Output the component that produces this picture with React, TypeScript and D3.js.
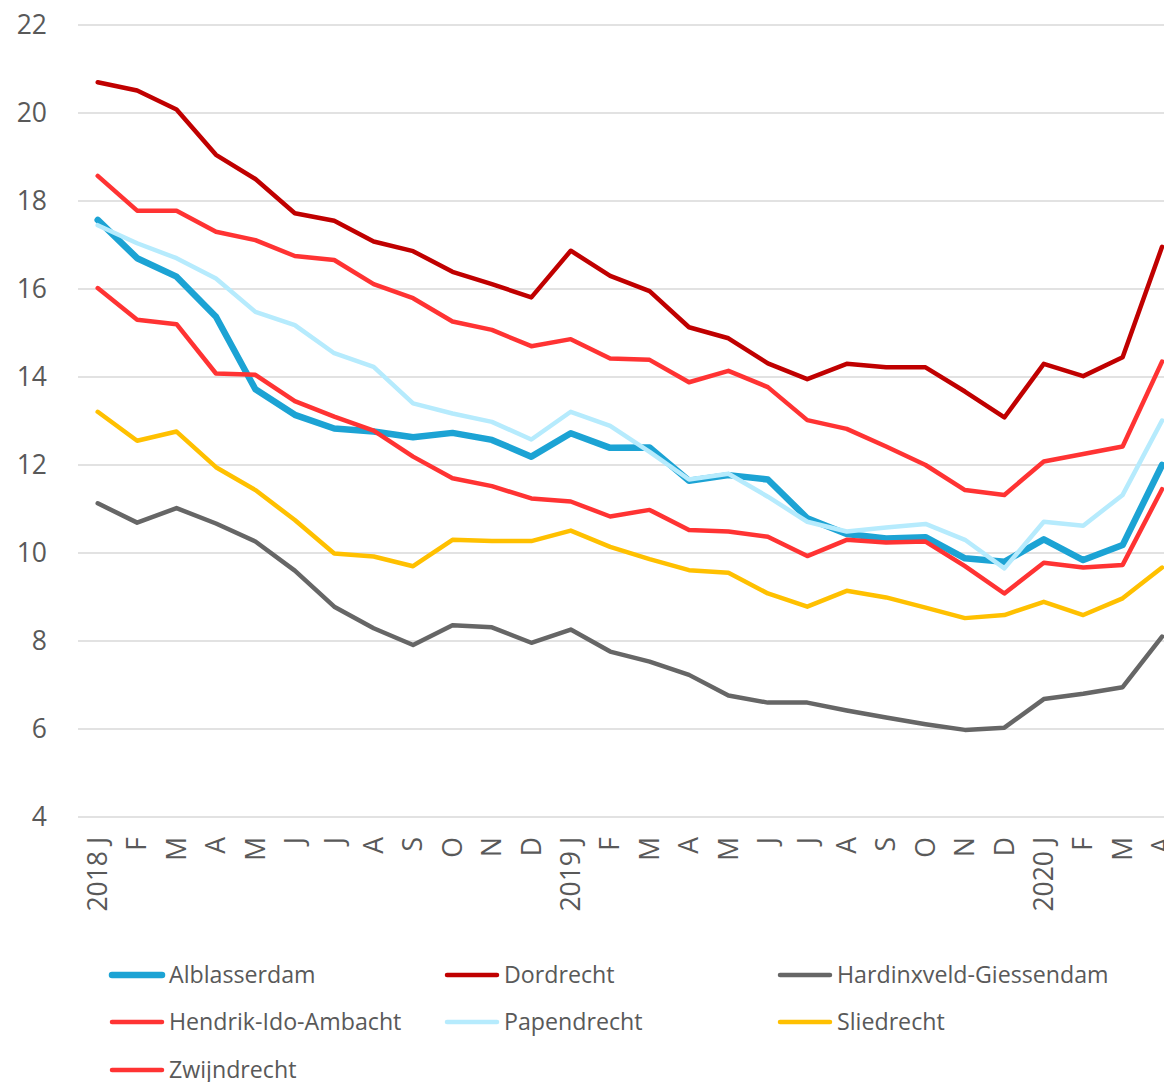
import React from "react";
import * as d3 from "d3";

const months = ["2018 J","F","M","A","M","J","J","A","S","O","N","D","2019 J","F","M","A","M","J","J","A","S","O","N","D","2020 J","F","M","A"];
const yTicks = [4, 6, 8, 10, 12, 14, 16, 18, 20, 22];

const alblasserdam = [17.57,16.7,16.28,15.37,13.72,13.14,12.83,12.76,12.63,12.73,12.57,12.19,12.72,12.39,12.4,11.64,11.77,11.67,10.79,10.43,10.33,10.36,9.88,9.8,10.31,9.84,10.18,12.0];
const dordrecht = [20.7,20.51,20.08,19.05,18.5,17.72,17.55,17.08,16.86,16.39,16.11,15.81,16.87,16.3,15.95,15.13,14.88,14.31,13.95,14.3,14.22,14.22,13.67,13.08,14.3,14.02,14.45,16.96];
const hardinxveld = [11.13,10.69,11.02,10.67,10.26,9.6,8.78,8.29,7.91,8.36,8.31,7.96,8.26,7.76,7.53,7.23,6.76,6.6,6.6,6.42,6.26,6.11,5.98,6.03,6.68,6.8,6.95,8.1];
const hendrikIdoAmbacht = [16.02,15.3,15.2,14.08,14.05,13.45,13.1,12.78,12.19,11.7,11.52,11.24,11.17,10.83,10.98,10.52,10.49,10.37,9.93,10.3,10.24,10.26,9.7,9.08,9.78,9.67,9.73,11.45];
const papendrecht = [17.45,17.04,16.7,16.24,15.48,15.18,14.54,14.23,13.4,13.17,12.98,12.58,13.21,12.89,12.3,11.67,11.8,11.28,10.71,10.49,10.58,10.66,10.3,9.65,10.71,10.62,11.32,13.01];
const sliedrecht = [13.21,12.55,12.76,11.95,11.43,10.75,9.99,9.92,9.7,10.3,10.27,10.27,10.51,10.14,9.86,9.61,9.55,9.08,8.78,9.14,8.99,8.76,8.52,8.59,8.89,8.59,8.97,9.67];
const zwijndrecht = [18.57,17.78,17.78,17.3,17.11,16.75,16.66,16.11,15.79,15.26,15.07,14.7,14.86,14.42,14.39,13.88,14.14,13.77,13.02,12.82,12.42,12.0,11.43,11.32,12.08,12.25,12.42,14.35];

const seriesNames = ["Alblasserdam","Dordrecht","Hardinxveld-Giessendam","Hendrik-Ido-Ambacht","Papendrecht","Sliedrecht","Zwijndrecht"];
const seriesValues = [alblasserdam, dordrecht, hardinxveld, hendrikIdoAmbacht, papendrecht, sliedrecht, zwijndrecht];
const seriesColors = ["#1CA3D4","#C00000","#666666","#FF3333","#B6EBFD","#FFC000","#FF3333"];
const seriesWidths = [6.5, 4.5, 4.5, 4.5, 4.5, 4.5, 4.5];

const W = 1164;
const H = 1082;
const FONT = "'Open Sans', sans-serif";
const TEXT = "#595959";

export default function App() {
  const plotLeft = 78;
  const step = 39.42;
  const x = d3.scaleBand<number>().domain(d3.range(months.length)).range([plotLeft, plotLeft + step * months.length]).padding(0);
  const cx = (i: number) => (x(i) as number) + x.bandwidth() / 2;
  const y = d3.scaleLinear().domain([4, 22]).range([817, 25]);
  const line = d3.line<number>().x((_, i) => cx(i)).y((d) => y(d));

  const legendCols = [110, 445, 778];
  const legendRows = [975, 1022, 1070];

  return (
    <svg width={W} height={H} style={{ position: "absolute", left: 0, top: 0, display: "block", background: "#fff" }}>
      {yTicks.map((t) => (
        <g key={t}>
          <line x1={plotLeft} x2={W + 30} y1={y(t)} y2={y(t)} stroke="#D9D9D9" strokeWidth={1.5} />
          <text x={47} y={y(t)} dy="0.35em" textAnchor="end" fontFamily={FONT} fontSize={26.5} fill={TEXT}>{t}</text>
        </g>
      ))}
      {months.map((m, i) => (
        <text key={i} transform={`translate(${cx(i)},837) rotate(-90)`} dy="0.35em" textAnchor="end" fontFamily={FONT} fontSize={26.5} fill={TEXT}>{m}</text>
      ))}
      {seriesValues.map((vals, k) => (
        <path key={k} d={line(vals) || ""} fill="none" stroke={seriesColors[k]} strokeWidth={seriesWidths[k]} strokeLinejoin="round" strokeLinecap="round" />
      ))}
      {seriesNames.map((name, k) => {
        const col = k % 3;
        const row = Math.floor(k / 3);
        const lx = legendCols[col];
        const ly = legendRows[row];
        return (
          <g key={name}>
            <line x1={lx + 2} x2={lx + 52} y1={ly} y2={ly} stroke={seriesColors[k]} strokeWidth={seriesWidths[k]} strokeLinecap="round" />
            <text x={lx + 59} y={ly} dy="0.35em" fontFamily={FONT} fontSize={23.2} fill={TEXT}>{name}</text>
          </g>
        );
      })}
    </svg>
  );
}
